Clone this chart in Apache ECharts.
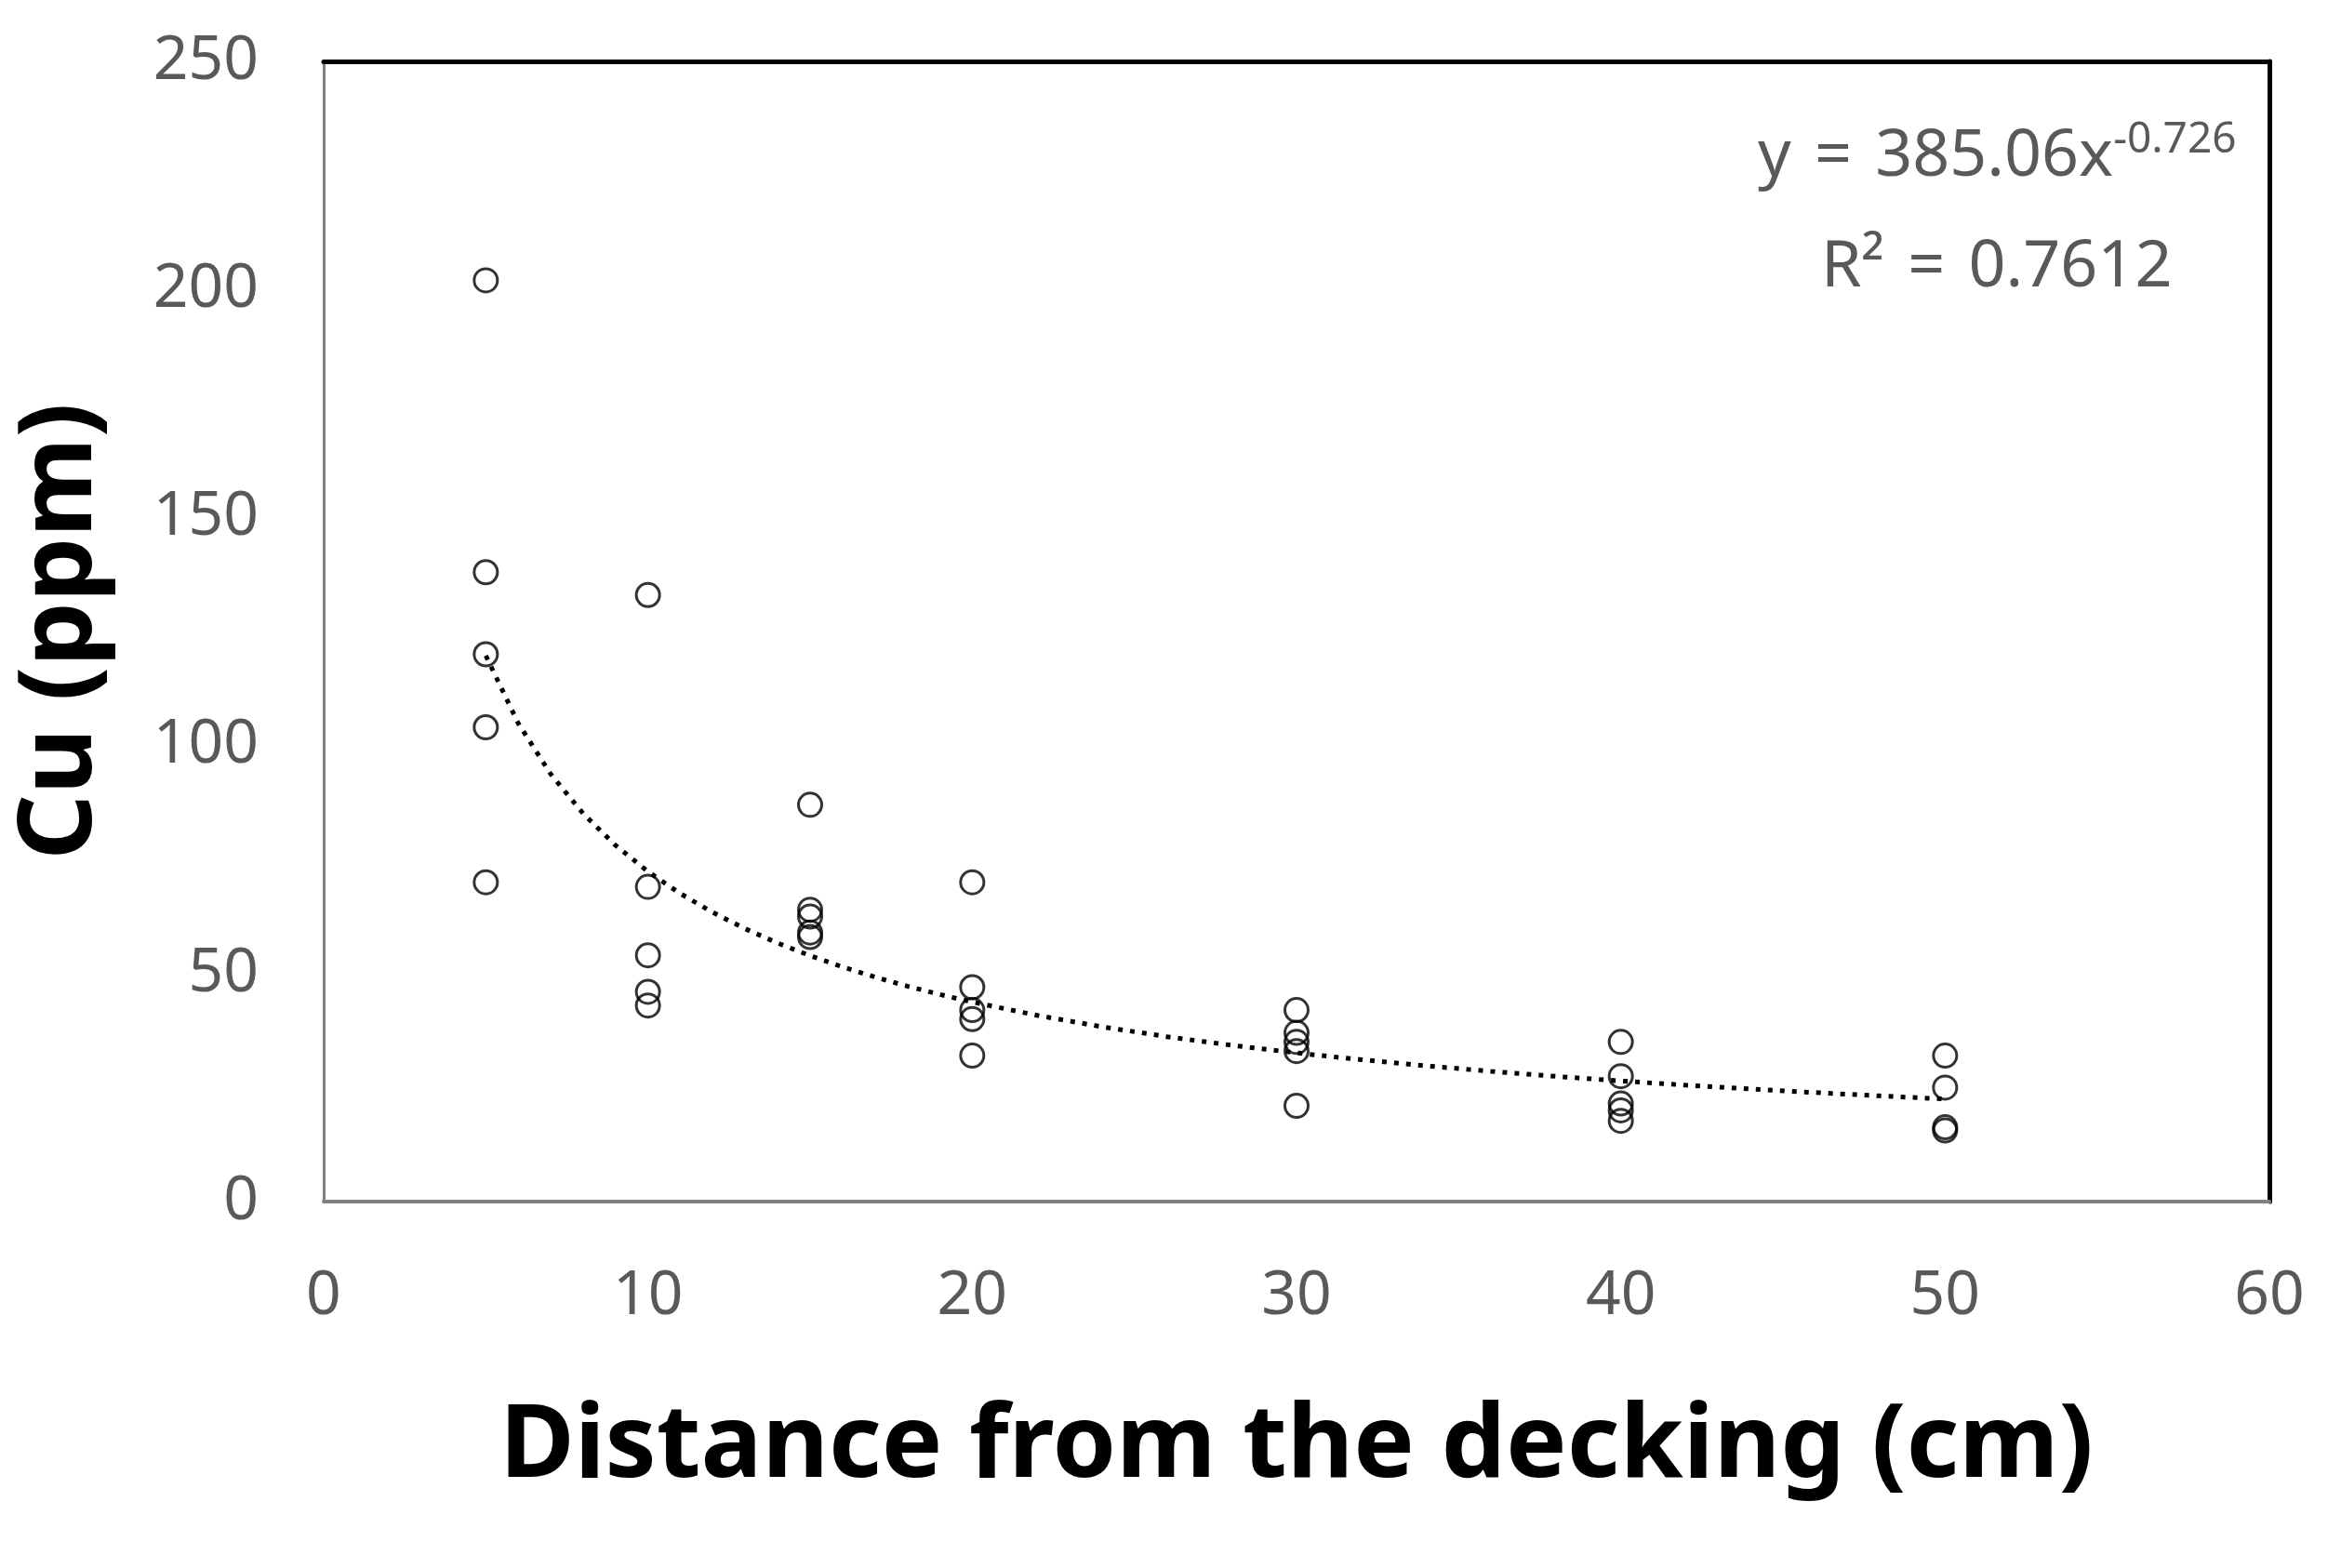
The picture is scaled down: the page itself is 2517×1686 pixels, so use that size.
<!DOCTYPE html>
<html>
<head>
<meta charset="utf-8">
<script src="https://cdn.jsdelivr.net/npm/echarts@6/dist/echarts.min.js"></script>
<style>
html,body{margin:0;padding:0;background:#fff;}
#chart{width:2517px;height:1686px;}
</style>
</head>
<body>
<div id="chart"></div>
<script>
// Distance from the decking (cm) for each sample
const distances = [5,5,5,5,5, 10,10,10,10,10, 15,15,15,15,15, 20,20,20,20,20, 30,30,30,30,30, 40,40,40,40,40, 50,50,50,50];
// Cu concentration (ppm)
const cuValues = [202,138,120,104,70, 133,69,54,46,43, 87,64,62.5,59,58, 70,47,42,40,32, 42,37,35,33,21, 35,27.5,21.5,20,17.7, 32,25,16.3,15.6];
// Power trendline shown on chart: y = 385.06 x^-0.726
const trendCoef = 385.06;
const trendExp = -0.726;
const trendX = [5,6,7,8,9,10,11,12,13,14,15,16,17,18,19,20,22,24,26,28,30,32,34,36,38,40,42,44,46,48,50];
const xTicks = [0,10,20,30,40,50,60];
const yTicks = [0,50,100,150,200,250];
const eqLine1 = 'y \u200A=\u200A 385.06x';
const eqSup = '-0.726';
const eqLine2 = 'R² \u200A=\u200A 0.7612';

const points = distances.map((d,i)=>[d, cuValues[i]]);
const trend = trendX.map(x=>[x, trendCoef*Math.pow(x, trendExp)]);

const chart = echarts.init(document.getElementById('chart'));
const font = '"Noto Sans", "Open Sans", sans-serif';
chart.setOption({
  backgroundColor:'#fff',
  animation:false,
  grid:{left:348,right:77,top:66,bottom:394,containLabel:false},
  xAxis:[{
    type:'value',min:xTicks[0],max:xTicks[xTicks.length-1],interval:10,
    axisLine:{show:true,onZero:false,lineStyle:{color:'#808080',width:4}},
    axisTick:{show:false},splitLine:{show:false},
    axisLabel:{color:'#595959',fontSize:66,fontFamily:font,margin:69},
    name:'Distance from the decking (cm)',nameLocation:'middle',nameGap:210,
    nameTextStyle:{color:'#000',fontSize:110,fontWeight:'bold',fontFamily:font}
  },{
    type:'value',position:'top',min:0,max:60,
    axisLine:{show:true,onZero:false,lineStyle:{color:'#000',width:5}},
    axisTick:{show:false},axisLabel:{show:false},splitLine:{show:false}
  }],
  yAxis:[{
    type:'value',min:yTicks[0],max:yTicks[yTicks.length-1],interval:50,
    axisLine:{show:true,onZero:false,lineStyle:{color:'#808080',width:3}},
    axisTick:{show:false},splitLine:{show:false},
    axisLabel:{color:'#595959',fontSize:66,fontFamily:font,margin:70},
    name:'Cu (ppm)',nameLocation:'middle',nameGap:226,
    nameTextStyle:{color:'#000',fontSize:110,fontWeight:'bold',fontFamily:font}
  },{
    type:'value',position:'right',min:0,max:250,
    axisLine:{show:true,onZero:false,lineStyle:{color:'#000',width:5}},
    axisTick:{show:false},axisLabel:{show:false},splitLine:{show:false}
  }],
  series:[{
    type:'line',data:trend,showSymbol:false,symbol:'none',smooth:false,
    lineStyle:{color:'#000',width:5,type:[5,8],cap:'butt'},z:2,silent:true
  },{
    type:'scatter',data:points,symbol:'circle',symbolSize:25,
    itemStyle:{color:'rgba(0,0,0,0)',borderColor:'#000',borderWidth:3},z:3
  }],
  graphic:[{
    type:'text',left:1890,top:128,
    style:{
      text:'{m|'+eqLine1+'}{s|'+eqSup+'}',
      rich:{
        m:{fontSize:70,fontFamily:font,fill:'#595959',lineHeight:80,verticalAlign:'bottom'},
        s:{fontSize:46,fontFamily:font,fill:'#595959',lineHeight:80,verticalAlign:'bottom',padding:[0,0,30,0]}
      }
    }
  },{
    type:'text',left:1958,top:253,
    style:{text:eqLine2,fontSize:70,fontFamily:font,fill:'#595959'}
  }]
});
</script>
</body>
</html>
